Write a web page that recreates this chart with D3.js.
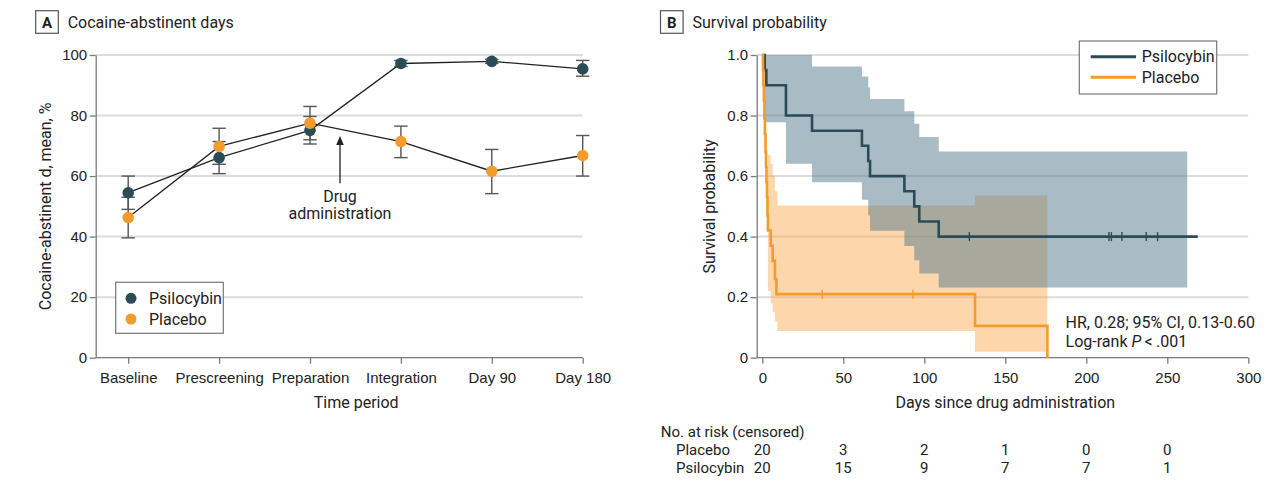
<!DOCTYPE html>
<html>
<head>
<meta charset="utf-8">
<title>Cocaine-abstinent days / Survival probability</title>
<style>
  body { margin: 0; background: #fff; }
  svg { display: block; font-family: Roboto, "Liberation Sans", Arial, sans-serif; }
  .tick text { font-size: 15px; fill: #222; }
  .tick line, .domain { stroke: #7a7a7a; stroke-width: 1.3; }
  .lbl { font-size: 16px; fill: #222; }
  .risk { font-size: 15px; fill: #222; }
</style>
</head>
<body>
<svg id="chart" width="1280" height="491"></svg>
<script src="https://cdn.jsdelivr.net/npm/d3@7/dist/d3.min.js"></script>
<script>

// ---- panel A: cocaine-abstinent days (mean, error bars) ----
var periods = ["Baseline", "Prescreening", "Preparation", "Integration", "Day 90", "Day 180"];
var psiMean = [54.5, 66.1, 75.1, 97.2, 97.9, 95.4];
var psiLo   = [49.0, 60.8, 70.6, 96.2, 97.2, 93.0];
var psiHi   = [60.0, 71.4, 79.7, 98.2, 98.6, 98.2];
var plaMean = [46.3, 69.8, 77.5, 71.4, 61.6, 66.8];
var plaLo   = [39.6, 63.9, 72.0, 66.1, 54.2, 60.0];
var plaHi   = [53.0, 75.8, 83.0, 76.5, 68.8, 73.4];
var yTicksA = [0, 20, 40, 60, 80, 100];

// ---- panel B: Kaplan-Meier ----
var psiTime = [0, 1.5, 2.5, 14.6, 30.7, 61.5, 65.4, 66.5, 87.7, 93.8, 96.9, 108.9];
var psiSurv = [1, 0.95, 0.90, 0.80, 0.75, 0.70, 0.65, 0.60, 0.55, 0.50, 0.45, 0.40];
var psiEnd = 268.8;
var psiCensor = [127.8, 214, 215.5, 222, 237, 244];
var psiBandT  = [1.5, 14.6, 30.7, 61.5, 65.4, 66.5, 87.7, 93.8, 96.9, 108.9];
var psiBandLo = [0.778, 0.641, 0.580, 0.522, 0.47, 0.419, 0.369, 0.322, 0.278, 0.232];
var psiBandHi = [1.0, 1.0, 0.962, 0.929, 0.893, 0.855, 0.814, 0.773, 0.729, 0.681];
var psiBandEnd = 262.3;

var plaTime = [0, 0.4, 0.7, 1.0, 1.3, 1.6, 2.0, 2.3, 2.6, 2.9, 3.2, 3.5, 5.2, 6.4, 7.8, 8.7, 131.3, 176];
var plaSurv = [1, 0.95, 0.90, 0.85, 0.79, 0.74, 0.68, 0.63, 0.58, 0.53, 0.47, 0.42, 0.37, 0.32, 0.26, 0.21, 0.105, 0];
var plaEnd = 176;
var plaCensor = [37, 93];
var plaBandT  = [3.5, 5.2, 6.4, 7.8, 9.3, 131.3];
var plaBandLo = [0.22, 0.18, 0.15, 0.12, 0.088, 0.02];
var plaBandHi = [0.67, 0.64, 0.60, 0.55, 0.503, 0.537];
var plaBandEnd = 176;

var xTicksB = [0, 50, 100, 150, 200, 250, 300];
var yTicksB = [0, 0.2, 0.4, 0.6, 0.8, 1.0];

var riskTimes = [0, 50, 100, 150, 200, 250];
var plaRisk = [20, 3, 2, 1, 0, 0];
var psiRisk = [20, 15, 9, 7, 7, 1];

var psiColor = '#2b4c57', plaColor = '#f39b2b';

var svg = d3.select('#chart');

function panelTitle(x, letter, text) {
  svg.append('rect').attr('x', x).attr('y', 10.7).attr('width', 22.6).attr('height', 22.6)
    .attr('fill', 'none').attr('stroke', '#555').attr('stroke-width', 1.2);
  svg.append('text').attr('x', x + 11.3).attr('y', 27.6).attr('text-anchor', 'middle')
    .attr('font-size', 15).attr('font-weight', 'bold').attr('fill', '#222').text(letter);
  svg.append('text').attr('x', x + 32).attr('y', 28.3).attr('font-size', 16)
    .attr('fill', '#222').text(text);
}

// ================= panel A =================
var xA = d3.scalePoint().domain(periods).range([128.2, 582.7]);
var yA = d3.scaleLinear().domain([0, 100]).range([357.7, 55]);
var A = svg.append('g');

panelTitle(35.7, 'A', 'Cocaine-abstinent days');

A.selectAll('line.grid').data(yTicksA.filter(function(d){ return d > 0; })).enter()
  .append('line').attr('class', 'grid')
  .attr('x1', 95.7).attr('x2', 582.7)
  .attr('y1', function(d){ return yA(d); }).attr('y2', function(d){ return yA(d); })
  .attr('stroke', '#dcdcdc').attr('stroke-width', 2);

A.append('g').attr('transform', 'translate(95.7,0)')
  .call(d3.axisLeft(yA).tickValues(yTicksA).tickSize(6).tickSizeOuter(0).tickPadding(2.5));

var gxA = A.append('g').attr('transform', 'translate(0,357.7)')
  .call(d3.axisBottom(xA).tickSize(6).tickSizeOuter(0).tickPadding(9));
gxA.select('.domain').remove();
A.append('line').attr('x1', 95.7).attr('x2', 582.7).attr('y1', 357.7).attr('y2', 357.7)
  .attr('stroke', '#7a7a7a').attr('stroke-width', 1.3);

A.append('text').attr('class', 'lbl').attr('x', 356.2).attr('y', 408)
  .attr('text-anchor', 'middle').text('Time period');
A.append('text').attr('class', 'lbl')
  .attr('transform', 'translate(45.2,206.4) rotate(-90)')
  .attr('dy', '0.35em').attr('text-anchor', 'middle').text('Cocaine-abstinent d, mean, %');

// arrow annotation
var arrowX = xA('Preparation') + 0.33 * xA.step();
A.append('line').attr('x1', arrowX).attr('x2', arrowX).attr('y1', 183.3).attr('y2', 143)
  .attr('stroke', '#222').attr('stroke-width', 1.3);
A.append('path')
  .attr('d', 'M' + arrowX + ',136 L' + (arrowX - 3.8) + ',145 L' + (arrowX + 3.8) + ',145 Z')
  .attr('fill', '#222');
A.append('text').attr('class', 'lbl').attr('x', arrowX).attr('y', 201.7)
  .attr('text-anchor', 'middle').text('Drug');
A.append('text').attr('class', 'lbl').attr('x', arrowX).attr('y', 218.6)
  .attr('text-anchor', 'middle').text('administration');

function seriesA(mean, lo, hi) {
  var rows = periods.map(function(p, i){ return {p: p, m: mean[i], lo: lo[i], hi: hi[i]}; });
  var eb = A.append('g').selectAll('g.eb').data(rows).enter().append('g')
    .attr('stroke', '#555').attr('stroke-width', 1.4);
  eb.append('line')
    .attr('x1', function(d){ return xA(d.p); }).attr('x2', function(d){ return xA(d.p); })
    .attr('y1', function(d){ return yA(d.lo); }).attr('y2', function(d){ return yA(d.hi); });
  ['lo', 'hi'].forEach(function(k){
    eb.append('line')
      .attr('x1', function(d){ return xA(d.p) - 6.7; }).attr('x2', function(d){ return xA(d.p) + 6.7; })
      .attr('y1', function(d){ return yA(d[k]); }).attr('y2', function(d){ return yA(d[k]); });
  });
  return rows;
}
var psiRows = seriesA(psiMean, psiLo, psiHi);
var plaRows = seriesA(plaMean, plaLo, plaHi);

var lineA = d3.line().x(function(d){ return xA(d.p); }).y(function(d){ return yA(d.m); });
[psiRows, plaRows].forEach(function(rows){
  A.append('path').attr('d', lineA(rows)).attr('fill', 'none')
    .attr('stroke', '#222').attr('stroke-width', 1.3);
});
[[psiRows, psiColor], [plaRows, plaColor]].forEach(function(s){
  A.selectAll(null).data(s[0]).enter().append('circle')
    .attr('cx', function(d){ return xA(d.p); }).attr('cy', function(d){ return yA(d.m); })
    .attr('r', 5.8).attr('fill', s[1]);
});

// legend A
A.append('rect').attr('x', 115.7).attr('y', 282.3).attr('width', 107.6).attr('height', 51)
  .attr('fill', '#fff').attr('stroke', '#777').attr('stroke-width', 1.2);
[['Psilocybin', psiColor, 298.3], ['Placebo', plaColor, 319]].forEach(function(l){
  A.append('circle').attr('cx', 131).attr('cy', l[2]).attr('r', 5.5).attr('fill', l[1]);
  A.append('text').attr('class', 'lbl').attr('x', 149).attr('y', l[2] + 5.7).text(l[0]);
});

// ================= panel B =================
var xB = d3.scaleLinear().domain([0, 300]).range([762.3, 1248.3]);
var yB = d3.scaleLinear().domain([0, 1]).range([357.7, 55]);
var B = svg.append('g');

panelTitle(660.5, 'B', 'Survival probability');

B.selectAll('line.grid').data(yTicksB.filter(function(d){ return d > 0; })).enter()
  .append('line').attr('class', 'grid')
  .attr('x1', 756.7).attr('x2', 1248.3)
  .attr('y1', function(d){ return yB(d); }).attr('y2', function(d){ return yB(d); })
  .attr('stroke', '#dcdcdc').attr('stroke-width', 2);

function band(T, lo, hi, end) {
  var pts = T.map(function(t, i){ return [t, lo[i], hi[i]]; });
  pts.push([end, lo[lo.length - 1], hi[hi.length - 1]]);
  return pts;
}
var areaB = d3.area().curve(d3.curveStepAfter)
  .x(function(d){ return xB(d[0]); })
  .y0(function(d){ return yB(d[1]); })
  .y1(function(d){ return yB(d[2]); });

B.append('path').attr('d', areaB(band(plaBandT, plaBandLo, plaBandHi, plaBandEnd)))
  .attr('fill', '#fba446').attr('fill-opacity', 0.45);
B.append('path').attr('d', areaB(band(psiBandT, psiBandLo, psiBandHi, psiBandEnd)))
  .attr('fill', '#53798d').attr('fill-opacity', 0.5);

B.append('g').attr('transform', 'translate(756.7,0)')
  .call(d3.axisLeft(yB).tickValues(yTicksB).tickSize(6).tickSizeOuter(0).tickPadding(2.5)
    .tickFormat(function(d){ return d === 0 ? '0' : d3.format('.1f')(d); }));
var gxB = B.append('g').attr('transform', 'translate(0,357.7)')
  .call(d3.axisBottom(xB).tickValues(xTicksB).tickSize(6).tickSizeOuter(0).tickPadding(9));
gxB.select('.domain').remove();
B.append('line').attr('x1', 756.7).attr('x2', 1248.3).attr('y1', 357.7).attr('y2', 357.7)
  .attr('stroke', '#7a7a7a').attr('stroke-width', 1.3);

B.append('text').attr('class', 'lbl').attr('x', 1005.3).attr('y', 408)
  .attr('text-anchor', 'middle').text('Days since drug administration');
B.append('text').attr('class', 'lbl')
  .attr('transform', 'translate(709.3,206.4) rotate(-90)')
  .attr('dy', '0.35em').attr('text-anchor', 'middle').text('Survival probability');

var lineB = d3.line().curve(d3.curveStepAfter)
  .x(function(d){ return xB(d[0]); }).y(function(d){ return yB(d[1]); });

function km(T, S, end, censor, color) {
  var pts = T.map(function(t, i){ return [t, S[i]]; });
  if (end > T[T.length - 1]) pts.push([end, S[S.length - 1]]);
  B.append('path').attr('d', lineB(pts)).attr('fill', 'none')
    .attr('stroke', color).attr('stroke-width', 2.6);
  B.selectAll(null).data(censor).enter().append('line')
    .attr('x1', function(d){ return xB(d); }).attr('x2', function(d){ return xB(d); })
    .attr('y1', function(d){ return yB(S[d3.bisectRight(T, d) - 1]) - 4.5; })
    .attr('y2', function(d){ return yB(S[d3.bisectRight(T, d) - 1]) + 4.5; })
    .attr('stroke', color).attr('stroke-width', 1.4);
}
km(psiTime, psiSurv, psiEnd, psiCensor, psiColor);
km(plaTime, plaSurv, plaEnd, plaCensor, plaColor);

// legend B
B.append('rect').attr('x', 1079.3).attr('y', 41).attr('width', 137.4).attr('height', 53)
  .attr('fill', '#fff').attr('stroke', '#777').attr('stroke-width', 1.2);
[['Psilocybin', psiColor, 56.7], ['Placebo', plaColor, 77.3]].forEach(function(l){
  B.append('line').attr('x1', 1090.7).attr('x2', 1136).attr('y1', l[2]).attr('y2', l[2])
    .attr('stroke', l[1]).attr('stroke-width', 3);
  B.append('text').attr('class', 'lbl').attr('x', 1141.7).attr('y', l[2] + 5.7).text(l[0]);
});

// statistics
B.append('text').attr('class', 'lbl').attr('x', 1065.6).attr('y', 327.5)
  .text('HR, 0.28; 95% CI, 0.13-0.60');
var lr = B.append('text').attr('class', 'lbl').attr('x', 1065.6).attr('y', 346.5);
lr.append('tspan').text('Log-rank ');
lr.append('tspan').attr('font-style', 'italic').text('P');
lr.append('tspan').text('\u2009<\u2009.001');

// number at risk
B.append('text').attr('class', 'risk').attr('x', 660.8).attr('y', 437).text('No. at risk (censored)');
[['Placebo', plaRisk, 455], ['Psilocybin', psiRisk, 473]].forEach(function(r){
  B.append('text').attr('class', 'risk').attr('x', 676).attr('y', r[2]).text(r[0]);
  B.selectAll(null).data(r[1]).enter().append('text').attr('class', 'risk')
    .attr('x', function(d, i){ return xB(riskTimes[i]); }).attr('y', r[2])
    .attr('text-anchor', 'middle').text(function(d){ return d; });
});

</script>
</body>
</html>
